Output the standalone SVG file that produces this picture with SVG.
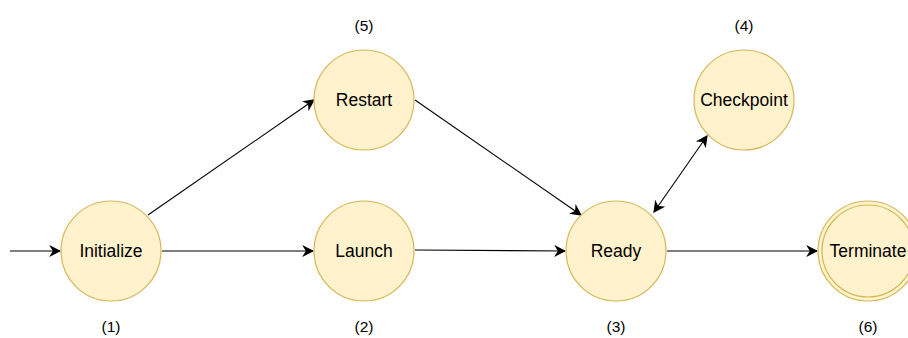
<svg xmlns="http://www.w3.org/2000/svg" width="908" height="338" viewBox="0 0 908 338">
  <style>
    .state { fill: #FFF2CC; stroke: #D6B656; stroke-width: 1.2; }
    .name { font-family: "Liberation Sans", Arial, sans-serif; font-size: 17.5px; fill: #000; text-anchor: middle; dominant-baseline: central; }
    .num { font-family: "Liberation Sans", Arial, sans-serif; font-size: 15.5px; fill: #000; text-anchor: middle; dominant-baseline: central; }
    .edge { fill: none; stroke: #000; stroke-width: 1.1; }
  </style>
  <defs>
    <marker id="arrow" viewBox="0 0 10 10" refX="9" refY="5" markerWidth="12" markerHeight="12" markerUnits="userSpaceOnUse" orient="auto-start-reverse">
      <path d="M0,0 L10,5 L0,10 L3,5 Z" fill="#000"/>
    </marker>
  </defs>
  <rect width="908" height="338" fill="#fff"/>

  <g id="connectors">
    <line class="edge" x1="10" y1="251" x2="60" y2="251" marker-end="url(#arrow)"/>
    <line class="edge" x1="148" y1="215" x2="314" y2="100" marker-end="url(#arrow)"/>
    <line class="edge" x1="162" y1="251" x2="313" y2="251" marker-end="url(#arrow)"/>
    <line class="edge" x1="415" y1="100" x2="581" y2="215" marker-end="url(#arrow)"/>
    <line class="edge" x1="415" y1="250" x2="565" y2="251" marker-end="url(#arrow)"/>
    <line class="edge" x1="654" y1="212" x2="707" y2="136" marker-start="url(#arrow)" marker-end="url(#arrow)"/>
    <line class="edge" x1="667" y1="251" x2="817" y2="251" marker-end="url(#arrow)"/>
  </g>

  <g id="initialize">
    <circle class="state" cx="111" cy="251" r="50"/>
    <text class="name" x="111" y="251">Initialize</text>
    <text class="num" x="111" y="326">(1)</text>
  </g>
  <g id="launch">
    <circle class="state" cx="364" cy="251" r="50"/>
    <text class="name" x="364" y="251">Launch</text>
    <text class="num" x="364" y="326">(2)</text>
  </g>
  <g id="ready">
    <circle class="state" cx="616" cy="251" r="50"/>
    <text class="name" x="616" y="251">Ready</text>
    <text class="num" x="616" y="326">(3)</text>
  </g>
  <g id="checkpoint">
    <circle class="state" cx="744" cy="100" r="50"/>
    <text class="name" x="744" y="100">Checkpoint</text>
    <text class="num" x="744" y="25">(4)</text>
  </g>
  <g id="restart">
    <circle class="state" cx="364" cy="100" r="50"/>
    <text class="name" x="364" y="100">Restart</text>
    <text class="num" x="364" y="25">(5)</text>
  </g>
  <g id="terminate">
    <circle class="state" cx="868" cy="251" r="50"/>
    <circle class="state" cx="868" cy="251" r="46"/>
    <text class="name" x="868" y="251">Terminate</text>
    <text class="num" x="868" y="326">(6)</text>
  </g>
</svg>
